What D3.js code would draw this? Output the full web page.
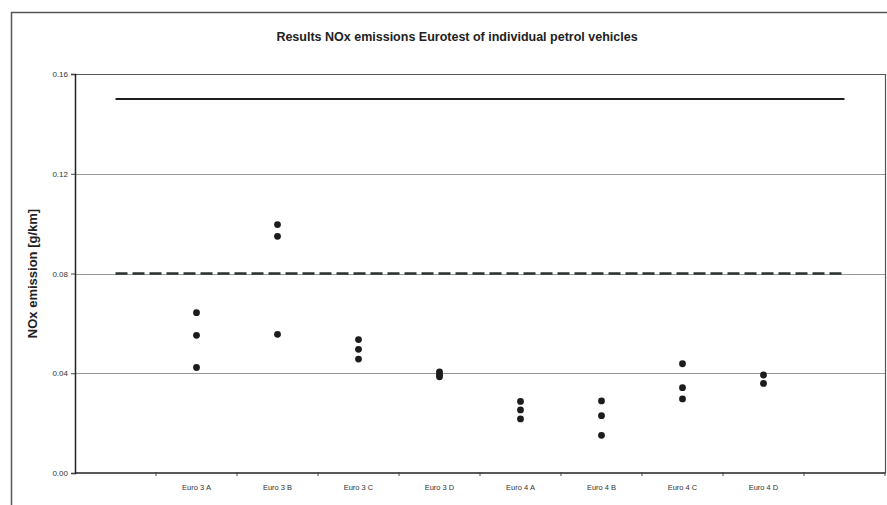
<!DOCTYPE html>
<html>
<head>
<meta charset="utf-8">
<script src="https://cdn.jsdelivr.net/npm/d3@7"></script>
<style>
  html, body { margin: 0; padding: 0; background: #fff; }
  svg { display: block; font-family: "Liberation Sans", Arial, sans-serif; }
</style>
</head>
<body>
<svg id="chart" width="887" height="505"></svg>
<script>
// ---- Data ----
const categories = ["Euro 3 A", "Euro 3 B", "Euro 3 C", "Euro 3 D", "Euro 4 A", "Euro 4 B", "Euro 4 C", "Euro 4 D"];
const euro3A = [0.0643, 0.0552, 0.0423];
const euro3B = [0.0996, 0.0949, 0.0556];
const euro3C = [0.0535, 0.0496, 0.0457];
const euro3D = [0.0405, 0.0395, 0.0386];
const euro4A = [0.0287, 0.0253, 0.0217];
const euro4B = [0.0289, 0.0230, 0.0151];
const euro4C = [0.0438, 0.0342, 0.0297];
const euro4D = [0.0393, 0.0359];
const seriesValues = [euro3A, euro3B, euro3C, euro3D, euro4A, euro4B, euro4C, euro4D];
const euro3Limit = 0.15;
const euro4Limit = 0.08;
const yTicks = [0.00, 0.04, 0.08, 0.12, 0.16];
const title = "Results NOx emissions Eurotest of individual petrol vehicles";
const yLabel = "NOx emission [g/km]";

// ---- Layout ----
const svg = d3.select("#chart");
const plot = { left: 75, right: 885, top: 74, bottom: 473 };

const slots = ["__start", ...categories, "__end"];
const x = d3.scaleBand().domain(slots).range([plot.left, plot.right]).padding(0);
const cx = d => x(d) + x.bandwidth() / 2;
const y = d3.scaleLinear().domain([0, 0.16]).range([plot.bottom, plot.top]);

// outer chart frame
svg.append("rect")
  .attr("x", 11.5).attr("y", 12.5)
  .attr("width", 900).attr("height", 520)
  .attr("fill", "none").attr("stroke", "#555").attr("stroke-width", 1.5);

// title
svg.append("text")
  .attr("x", 457).attr("y", 41)
  .attr("text-anchor", "middle")
  .attr("font-size", 12.5).attr("font-weight", "bold")
  .attr("fill", "#222")
  .text(title);

// gridlines
svg.append("g").selectAll("line")
  .data(yTicks.filter(t => t > 0 && t < 0.16))
  .join("line")
  .attr("x1", plot.left).attr("x2", plot.right)
  .attr("y1", d => Math.round(y(d)) + 0.5).attr("y2", d => Math.round(y(d)) + 0.5)
  .attr("stroke", "#9a9a9a").attr("stroke-width", 1);

// plot frame top & right
svg.append("path")
  .attr("d", `M${plot.left},${y(0.16) + 0.5}H${plot.right + 0.5}V${plot.bottom}`)
  .attr("fill", "none").attr("stroke", "#555").attr("stroke-width", 1.2);

// y axis
const yAxis = svg.append("g")
  .attr("transform", `translate(${plot.left},0)`)
  .call(d3.axisLeft(y).tickValues(yTicks).tickFormat(d3.format(".2f")).tickSize(4).tickPadding(3));
yAxis.select(".domain").attr("stroke", "#222").attr("stroke-width", 1.5);
yAxis.selectAll(".tick line").attr("stroke", "#444");
yAxis.selectAll(".tick text").attr("font-size", 8).attr("fill", "#333")
  .attr("font-family", "'Liberation Sans', Arial, sans-serif");

// x axis
const xAxis = svg.append("g").attr("transform", `translate(0,${plot.bottom})`);
xAxis.append("line")
  .attr("x1", plot.left).attr("x2", plot.right + 0.5)
  .attr("stroke", "#222").attr("stroke-width", 1.5);
const boundaries = slots.slice(1).map(s => x(s));
boundaries.push(plot.right);
xAxis.selectAll(".xt").data(boundaries).join("line")
  .attr("class", "xt")
  .attr("x1", d => d).attr("x2", d => d)
  .attr("y1", -1).attr("y2", 3)
  .attr("stroke", "#444");
xAxis.selectAll(".xl").data(categories).join("text")
  .attr("class", "xl")
  .attr("x", d => cx(d)).attr("y", 17)
  .attr("text-anchor", "middle")
  .attr("font-size", 7.5).attr("fill", "#333")
  .text(d => d);

// y label
svg.append("text")
  .attr("transform", `translate(37,${(plot.top + plot.bottom) / 2}) rotate(-90)`)
  .attr("text-anchor", "middle")
  .attr("font-size", 13).attr("font-weight", "bold").attr("fill", "#222")
  .text(yLabel);

// limit lines
const lineGen = d3.line().x(d => cx(d[0])).y(d => y(d[1]));
svg.append("path")
  .attr("d", lineGen([[slots[0], euro3Limit], [slots[slots.length - 1], euro3Limit]]))
  .attr("stroke", "#1e1e1e").attr("stroke-width", 2).attr("fill", "none");
svg.append("path")
  .attr("d", lineGen([[slots[0], euro4Limit], [slots[slots.length - 1], euro4Limit]]))
  .attr("stroke", "#2b3430").attr("stroke-width", 2.5).attr("fill", "none")
  .attr("stroke-dasharray", "12,5");

// points
const pts = [];
categories.forEach((c, i) => seriesValues[i].forEach(v => pts.push({ c, v })));
svg.append("g").selectAll("circle").data(pts).join("circle")
  .attr("cx", d => cx(d.c)).attr("cy", d => y(d.v))
  .attr("r", 3.4).attr("fill", "#1c1c1c");
</script>
</body>
</html>
